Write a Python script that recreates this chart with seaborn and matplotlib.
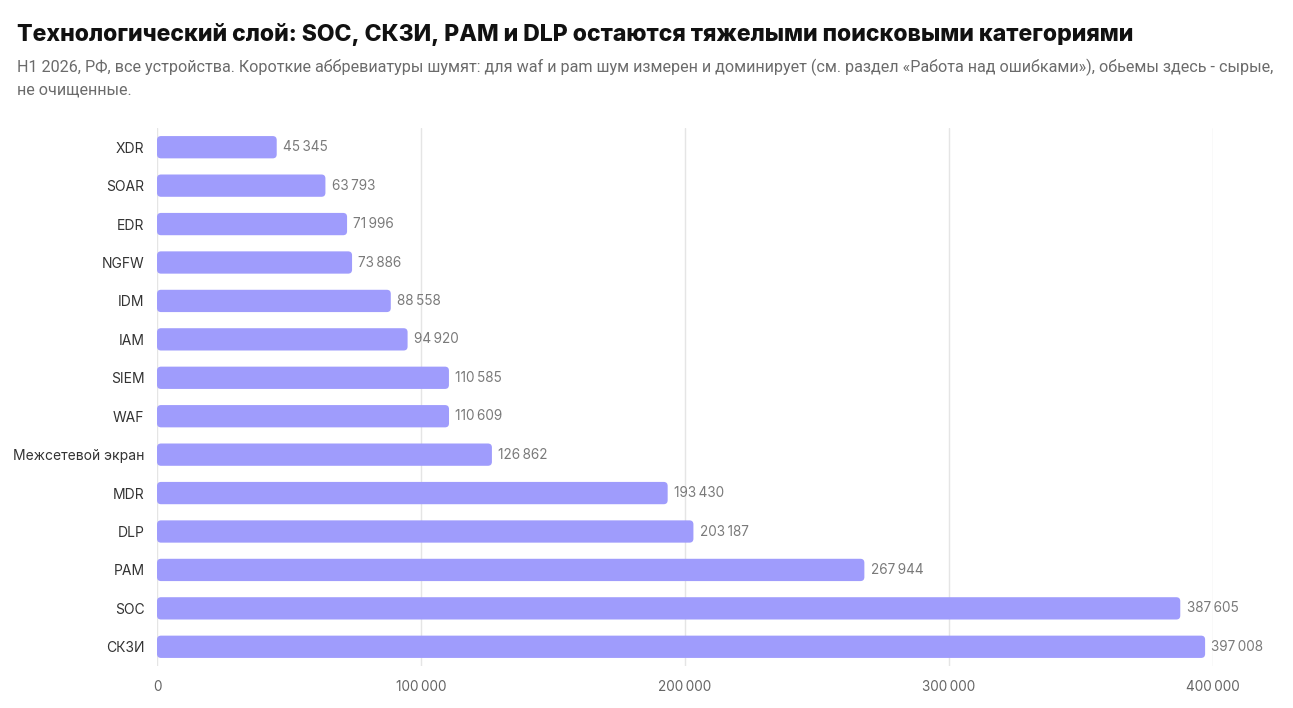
import matplotlib
matplotlib.use("Agg")
import matplotlib.pyplot as plt
import seaborn as sns
import pandas as pd
from matplotlib.patches import FancyBboxPatch

categories = ["XDR", "SOAR", "EDR", "NGFW", "IDM", "IAM", "SIEM", "WAF",
              "Межсетевой экран", "MDR", "DLP", "PAM", "SOC", "СКЗИ"]
values = [45345, 63793, 71996, 73886, 88558, 94920, 110585, 110609,
          126862, 193430, 203187, 267944, 387605, 397008]
x_ticks = [0, 100000, 200000, 300000, 400000]

title = "Технологический слой: SOC, СКЗИ, PAM и DLP остаются тяжелыми поисковыми категориями"
subtitle = ("H1 2026, РФ, все устройства. Короткие аббревиатуры шумят: для waf и pam шум измерен и доминирует "
            "(см. раздел «Работа над ошибками»), обьемы здесь - сырые,\nне очищенные.")

sns.set_theme(style="white")
plt.rcParams['font.family'] = ['Inter', 'DejaVu Sans']

def fmt(v):
    return f"{v:,}".replace(",", "\u2009")

df = pd.DataFrame({"category": categories, "value": values})

fig = plt.figure(figsize=(12.93, 7.08), dpi=100)
ax = fig.add_axes([157/1293, 1-666/708, (1213-157)/1293, (666-128)/708])

bar_color = "#9f9cfc"
sns.barplot(data=df, y="category", x="value", orient="h", color=bar_color,
            width=0.58, ax=ax, saturation=1, zorder=3)

ax.set_xlim(0, 400000)
ax.set_ylim(13.5, -0.5)

# replace bars with rounded versions of the same geometry
px_x = 400000 / 1056
px_y = 14 / 538
r_px = 4
for p in list(ax.patches):
    x0, y0 = p.get_x(), p.get_y()
    w, h = p.get_width(), p.get_height()
    p.set_visible(False)
    fb = FancyBboxPatch((x0, y0), w, h,
                        boxstyle=f"round,pad=0,rounding_size={r_px * px_x}",
                        mutation_aspect=px_y / px_x,
                        facecolor=bar_color, edgecolor="none", zorder=3)
    ax.add_patch(fb)

for i, v in enumerate(values):
    ax.text(v + 2400, i, fmt(v), va="center", ha="left", fontsize=9.8, color="#7a7a7a", zorder=4)

ax.set_xticks(x_ticks)
ax.set_xticklabels([fmt(t) for t in x_ticks])
ax.grid(axis="x", color="#e5e5e5", linewidth=1, zorder=0)
ax.set_axisbelow(True)
for s in ax.spines.values():
    s.set_visible(False)
ax.tick_params(axis="x", colors="#666666", labelsize=9.8, length=0, pad=10)
ax.tick_params(axis="y", colors="#333333", labelsize=10, length=0, pad=9)
ax.set_xlabel("")
ax.set_ylabel("")

fig.text(17/1293, 1-35/708, title, fontsize=16.6, fontweight="heavy", color="#111111", va="center", ha="left")
fig.text(17/1293, 1-59/708, subtitle, fontsize=11.6, color="#6b6b6b", va="top", ha="left",
         linespacing=1.55, family=['Roboto', 'DejaVu Sans'])

fig.savefig("out.png", dpi=100, facecolor="white")
